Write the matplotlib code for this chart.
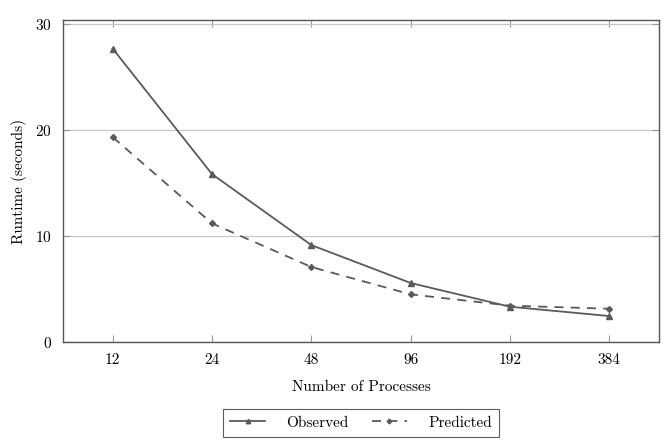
import matplotlib
matplotlib.use("Agg")
import matplotlib.pyplot as plt

plt.rcParams['font.family'] = ['cmr10', 'DejaVu Serif']
plt.rcParams['axes.formatter.use_mathtext'] = True
plt.rcParams['font.size'] = 11

processes = ["12", "24", "48", "96", "192", "384"]
observed = [27.7, 15.85, 9.15, 5.57, 3.33, 2.45]
predicted = [19.34, 11.2, 7.08, 4.5, 3.43, 3.14]

col = "#5a5a5a"
fig = plt.figure(figsize=(6.65, 4.42), dpi=100)
ax = fig.add_axes([63/665, 1 - 342/442, 596/665, 322/442])

x = range(len(processes))
ax.plot(x, observed, color=col, linestyle='-', marker='^', markersize=4, linewidth=1.3, label="Observed")
ax.plot(x, predicted, color=col, linestyle=(0, (5, 4)), marker='D', markersize=3, linewidth=1.3, label="Predicted")

ax.set_xlim(-0.5, 5.5)
ax.set_ylim(0, 30.4)
ax.set_xticks(list(x))
ax.set_xticklabels(processes)
ax.set_yticks([0, 10, 20, 30])
ax.yaxis.grid(True, color="#c8c8c8", linewidth=0.9)
ax.set_axisbelow(True)
ax.tick_params(direction='in', top=True, right=True, color="#999999", length=5, labelsize=11, pad=8)
for s in ax.spines.values():
    s.set_color("#555555")
    s.set_linewidth(1.0)

ax.set_xlabel("Number of Processes", labelpad=10)
ax.set_ylabel("Runtime (seconds)", labelpad=6)

leg = ax.legend(loc='upper center', bbox_to_anchor=(0.5, -0.185), ncol=2, frameon=True,
                fancybox=False, edgecolor="#333333", handlelength=2.3, columnspacing=1.5,
                borderpad=0.45, handletextpad=1.4, markerscale=0.8)
leg.get_frame().set_linewidth(0.8)

fig.savefig("out.png", dpi=100)
